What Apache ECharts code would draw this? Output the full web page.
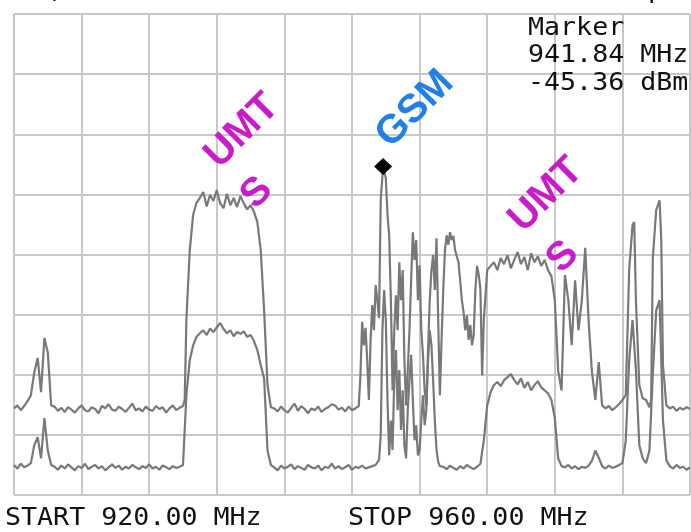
<!DOCTYPE html>
<html>
<head>
<meta charset="utf-8">
<script src="https://cdn.jsdelivr.net/npm/echarts@6/dist/echarts.min.js"></script>
<style>html,body{margin:0;padding:0;background:#fff;}#chart{width:691px;height:532px;}</style>
</head>
<body>
<div id="chart"></div>
<script>
// Frequency axis (MHz) and level axis (dBm)
const freqStart = 920, freqStop = 960, freqDiv = 4;
const refLevel = -20, bottomLevel = -100, dbPerDiv = 10;

// Marker
const markerFreq = 941.84, markerLevel = -45.36;

// Upper trace [MHz, dBm]
const upperTrace = [
[920.0,-85.6],[920.2,-85.1],[920.4,-85.9],[920.6,-85.2],[920.8,-84.4],
[921.0,-83.4],[921.2,-79.6],[921.4,-77.2],[921.6,-82.9],[921.8,-73.9],[922.0,-76.3],[922.2,-85.1],
[922.4,-85.3],[922.6,-86.0],[922.8,-85.5],[923.0,-86.2],[923.2,-85.4],[923.4,-85.8],[923.6,-86.3],[923.8,-85.6],
[924.0,-85.1],[924.2,-85.9],[924.4,-86.1],[924.6,-85.4],[924.8,-85.7],[925.0,-86.4],[925.2,-85.2],[925.4,-85.6],
[925.6,-84.9],[925.8,-85.8],[926.0,-86.0],[926.2,-85.3],[926.4,-85.7],[926.6,-86.2],[926.8,-85.5],[927.0,-84.8],
[927.2,-85.9],[927.4,-85.6],[927.6,-86.1],[927.8,-85.3],[928.0,-85.8],[928.2,-86.0],[928.4,-85.2],[928.6,-85.7],
[928.8,-85.4],[929.0,-86.3],[929.2,-85.6],[929.4,-85.1],[929.6,-85.9],[929.8,-85.5],
[930.0,-85.2],[930.1,-84.2],[930.2,-70.9],[930.4,-59.3],[930.6,-53.4],[930.8,-51.4],[931.0,-50.6],
[931.2,-49.6],[931.4,-52.0],[931.6,-50.1],[931.8,-51.1],[932.0,-49.3],[932.2,-51.5],[932.4,-52.3],[932.6,-49.9],
[932.8,-51.8],[933.0,-50.6],[933.2,-52.1],[933.4,-50.3],[933.6,-51.5],[933.8,-52.5],[934.0,-51.8],[934.2,-52.9],
[934.4,-54.6],[934.6,-59.3],[934.8,-69.3],[935.0,-81.7],[935.2,-85.4],
[935.4,-85.6],[935.6,-86.1],[935.8,-85.3],[936.0,-85.9],[936.2,-86.3],[936.4,-85.5],[936.6,-84.8],[936.8,-86.0],
[937.0,-85.2],[937.2,-85.7],[937.4,-86.4],[937.6,-85.6],[937.8,-85.9],[938.0,-85.3],[938.2,-86.2],[938.4,-85.7],
[938.6,-85.4],[938.8,-84.9],[939.0,-85.1],[939.2,-85.8],[939.4,-85.5],[939.6,-86.1],[939.8,-85.3],[940.0,-85.9],[940.2,-85.6],
[940.4,-85.2],[940.5,-80.1],[940.6,-71.2],[940.7,-75.1],[940.8,-72.2],[940.9,-77.6],[941.0,-84.2],[941.1,-74.2],
[941.2,-68.4],[941.3,-72.6],[941.4,-65.1],[941.5,-67.6],[941.6,-70.6],[941.7,-50.9],[941.84,-45.36],[942.0,-47.3],
[942.1,-53.4],[942.2,-56.8],[942.3,-67.6],[942.4,-82.6],[942.5,-72.6],[942.6,-66.8],[942.7,-72.6],[942.8,-61.3],
[942.9,-67.6],[943.0,-62.6],[943.1,-77.6],[943.2,-85.1],[943.3,-79.2],[943.4,-72.6],[943.5,-64.3],[943.6,-56.3],
[943.7,-60.9],[943.8,-57.6],[943.9,-67.6],[944.0,-61.8],[944.1,-72.6],[944.2,-76.7],[944.3,-82.6],[944.4,-85.1],
[944.5,-75.9],[944.6,-67.6],[944.7,-62.6],[944.8,-60.1],[944.9,-65.9],[945.0,-57.3],[945.1,-70.9],[945.2,-83.4],
[945.3,-74.2],[945.4,-65.9],[945.5,-59.3],[945.6,-56.8],[945.7,-58.4],[945.8,-56.3],[945.9,-57.6],[946.0,-56.9],
[946.1,-59.3],[946.2,-60.3],[946.3,-61.3],[946.4,-64.3],[946.5,-67.6],[946.6,-69.6],[946.7,-72.6],[946.8,-70.1],
[946.9,-74.2],[947.0,-71.7],[947.1,-75.1],[947.2,-73.4],[947.3,-65.9],[947.4,-61.9],[947.5,-63.4],[947.6,-65.9],
[947.7,-80.1],[947.8,-70.9],[947.9,-66.8],[948.0,-62.6],
[948.2,-61.9],[948.4,-61.3],[948.6,-62.6],[948.8,-60.6],[949.0,-61.6],[949.2,-60.1],[949.4,-62.3],[949.6,-60.9],
[949.8,-59.6],[950.0,-61.6],[950.2,-60.4],[950.4,-62.6],[950.6,-59.8],[950.8,-61.3],[951.0,-60.3],[951.2,-61.9],
[951.4,-60.9],[951.6,-62.6],[951.8,-63.6],[952.0,-67.6],
[952.2,-79.4],[952.4,-82.6],[952.6,-63.4],[952.8,-67.6],[953.0,-75.1],[953.2,-64.3],[953.4,-72.6],[953.6,-67.6],
[953.8,-58.9],[954.0,-71.0],[954.2,-79.6],[954.4,-84.2],[954.6,-77.9],[954.8,-85.1],
[955.0,-85.6],[955.2,-85.2],[955.4,-85.9],[955.6,-85.4],[955.8,-84.9],[956.0,-84.2],[956.2,-83.4],[956.4,-62.6],
[956.6,-55.1],[956.7,-54.6],[956.8,-67.6],[957.0,-81.7],[957.2,-83.9],[957.4,-84.2],[957.6,-85.4],[957.7,-84.2],
[957.8,-60.6],[958.0,-52.6],[958.2,-51.0],[958.3,-57.6],[958.4,-78.4],[958.6,-85.1],[958.8,-85.6],[959.0,-85.3],
[959.2,-86.0],[959.4,-85.5],[959.6,-85.8],[959.8,-85.4],[960.0,-85.7]
];

// Lower trace [MHz, dBm]
const lowerTrace = [
[920.0,-95.0],[920.2,-95.6],[920.4,-94.8],[920.6,-95.4],[920.8,-95.1],
[921.0,-94.7],[921.2,-91.7],[921.4,-90.4],[921.6,-93.9],[921.8,-87.2],[922.0,-92.6],[922.2,-95.0],
[922.4,-95.3],[922.6,-95.8],[922.8,-95.1],[923.0,-95.6],[923.2,-94.9],[923.4,-95.4],[923.6,-95.9],[923.8,-95.2],
[924.0,-95.5],[924.2,-94.8],[924.4,-95.7],[924.6,-95.3],[924.8,-95.0],[925.0,-95.6],[925.2,-95.2],[925.4,-95.9],
[925.6,-95.4],[925.8,-94.9],[926.0,-95.5],[926.2,-95.1],[926.4,-95.8],[926.6,-95.3],[926.8,-95.6],[927.0,-95.0],
[927.2,-95.4],[927.4,-95.7],[927.6,-95.2],[927.8,-95.5],[928.0,-94.9],[928.2,-95.6],[928.4,-95.3],[928.6,-95.8],
[928.8,-95.1],[929.0,-95.4],[929.2,-95.7],[929.4,-95.2],[929.6,-95.5],[929.8,-95.3],
[930.0,-95.0],[930.2,-83.4],[930.4,-77.6],[930.6,-75.1],[930.8,-73.7],[931.0,-73.1],
[931.2,-72.6],[931.4,-73.4],[931.6,-72.3],[931.8,-72.9],[932.0,-72.1],[932.2,-71.4],[932.4,-72.4],[932.6,-73.1],
[932.8,-72.6],[933.0,-73.6],[933.2,-72.9],[933.4,-73.2],[933.6,-72.8],[933.8,-73.7],[934.0,-73.4],[934.2,-74.4],
[934.4,-75.9],[934.6,-78.4],[934.8,-80.6],[935.0,-92.6],[935.2,-95.0],
[935.4,-95.4],[935.6,-95.9],[935.8,-95.1],[936.0,-95.6],[936.2,-95.3],[936.4,-94.9],[936.6,-95.7],[936.8,-95.2],
[937.0,-95.5],[937.2,-95.8],[937.4,-95.0],[937.6,-95.4],[937.8,-95.6],[938.0,-95.1],[938.2,-95.9],[938.4,-95.3],
[938.6,-95.5],[938.8,-94.8],[939.0,-95.6],[939.2,-95.2],[939.4,-95.7],[939.6,-95.4],[939.8,-95.0],[940.0,-95.8],
[940.2,-95.3],[940.4,-95.5],[940.6,-95.1],[940.8,-95.6],[941.0,-95.4],[941.2,-95.2],[941.4,-95.0],
[941.5,-95.0],[941.6,-94.2],[941.7,-90.0],[941.8,-72.6],[941.9,-65.9],[942.0,-70.9],[942.1,-84.2],[942.2,-93.4],
[942.3,-87.6],[942.4,-92.5],[942.5,-80.9],[942.6,-75.9],[942.7,-85.9],[942.8,-79.2],[942.9,-89.2],[943.0,-82.6],
[943.1,-91.7],[943.2,-93.9],[943.3,-85.9],[943.4,-80.9],[943.5,-76.7],[943.6,-84.2],[943.7,-90.9],[943.8,-88.4],
[943.9,-93.4],[944.0,-92.5],[944.1,-87.6],[944.2,-83.4],[944.3,-88.4],[944.4,-85.9],[944.5,-77.6],[944.6,-72.6],
[944.7,-75.1],[944.8,-80.9],[944.9,-87.6],[945.0,-92.5],[945.1,-94.5],[945.2,-95.2],
[945.4,-95.3],[945.6,-95.7],[945.8,-95.1],[946.0,-95.5],[946.2,-95.8],[946.4,-95.2],[946.6,-95.6],[946.8,-95.0],
[947.0,-95.4],[947.2,-95.7],[947.4,-95.3],[947.6,-94.8],
[947.8,-90.9],[948.0,-85.1],[948.2,-82.9],[948.4,-81.7],[948.6,-81.2],[948.8,-81.9],[949.0,-80.9],[949.2,-80.4],
[949.4,-79.9],[949.6,-80.9],[949.8,-81.6],[950.0,-80.6],[950.2,-82.2],[950.4,-81.2],[950.6,-82.6],[950.8,-81.7],
[951.0,-81.1],[951.2,-82.1],[951.4,-82.6],[951.6,-83.1],[951.8,-84.2],[952.0,-87.2],[952.2,-93.9],[952.4,-95.2],
[952.6,-95.4],[952.8,-95.0],[953.0,-95.6],[953.2,-95.2],[953.4,-95.7],[953.6,-95.3],[953.8,-95.5],[954.0,-95.1],
[954.2,-94.3],[954.4,-92.6],[954.6,-93.8],[954.8,-95.2],[955.0,-95.6],[955.2,-95.1],[955.4,-95.5],[955.6,-95.3],[955.8,-95.0],
[956.0,-94.7],[956.2,-90.9],[956.4,-77.6],[956.6,-70.9],[956.8,-79.2],[957.0,-91.7],[957.2,-93.9],[957.4,-94.7],
[957.6,-92.6],[957.8,-79.9],[958.0,-69.3],[958.2,-67.6],[958.4,-87.6],[958.6,-94.2],
[958.8,-95.2],[959.0,-95.6],[959.2,-95.0],[959.4,-95.5],[959.6,-95.3],[959.8,-95.8],[960.0,-95.4]
];

// Annotation texts
const markerLines = ['Marker', '941.84 MHz', '-45.36 dBm'];
const startLabel = 'START 920.00 MHz';
const stopLabel = 'STOP 960.00 MHz';
const clippedTopTexts = [['REF;', 0], ['Peak', 512], ['Spa', 632]];

const chart = echarts.init(document.getElementById('chart'), null, {renderer: 'canvas'});
const gridColor = '#c8c8c8';
const traceColor = '#787878';
const monoFont = '24px "DejaVu Sans Mono", "Liberation Mono", monospace';
const labelFont = 'bold 40px "Liberation Sans", Arial, sans-serif';

function monoText(text, x, y) {
  return {type: 'text', x: x, y: y, scaleX: 1.11, z: 100,
    style: {text: text, x: 0, y: 0, font: monoFont, fill: '#111', verticalAlign: 'middle'}};
}
function rotText(text, x, y, color) {
  return {type: 'text', x: x, y: y, rotation: Math.PI / 4, z: 100,
    style: {text: text, x: 0, y: 0, fill: color, font: labelFont, align: 'center', verticalAlign: 'middle'}};
}

const graphics = [
  monoText(markerLines[0], 528, 29),
  monoText(markerLines[1], 528, 56),
  monoText(markerLines[2], 528, 84),
  monoText(startLabel, 5, 519),
  monoText(stopLabel, 348, 519),
  rotText('UMT', 242, 131, '#c81cc8'),
  rotText('S', 257, 193, '#c81cc8'),
  rotText('GSM', 415, 109, '#1f80e8'),
  rotText('UMT', 546, 195, '#c81cc8'),
  rotText('S', 563, 257, '#c81cc8')
];
clippedTopTexts.forEach(function (t) { graphics.push(monoText(t[0], t[1], -8)); });

chart.setOption({
  animation: false,
  grid: {left: 14, right: 1, top: 14, bottom: 37, show: false},
  xAxis: {type: 'value', min: freqStart, max: freqStop, interval: freqDiv,
    axisLabel: {show: false}, axisTick: {show: false}, axisLine: {show: false},
    splitLine: {show: true, showMinLine: true, showMaxLine: true, lineStyle: {color: gridColor, width: 2}}},
  yAxis: {type: 'value', min: bottomLevel, max: refLevel, interval: dbPerDiv,
    axisLabel: {show: false}, axisTick: {show: false}, axisLine: {show: false},
    splitLine: {show: true, showMinLine: true, showMaxLine: true, lineStyle: {color: gridColor, width: 2}}},
  series: [
    {type: 'line', data: lowerTrace, showSymbol: false, symbol: 'none',
      lineStyle: {color: traceColor, width: 2.2}, z: 3},
    {type: 'line', data: upperTrace, showSymbol: false, symbol: 'none',
      lineStyle: {color: traceColor, width: 2.2}, z: 4},
    {type: 'scatter', data: [[markerFreq, markerLevel]], symbol: 'diamond', symbolSize: [18, 17],
      itemStyle: {color: '#000', opacity: 1}, z: 5}
  ],
  graphic: graphics
});
</script>
</body>
</html>
